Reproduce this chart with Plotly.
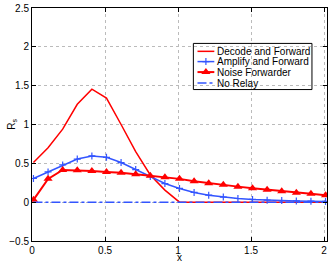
import plotly.graph_objects as go

x = [0.01 + 0.1 * i for i in range(21)]
df_vals = [0.51, 0.70, 0.94, 1.26, 1.455, 1.34, 1.00, 0.65, 0.35, 0.155, 0.0,
           0.0, 0.0, 0.0, 0.0, 0.0, 0.0, 0.0, 0.0, 0.0, 0.0]
af_vals = [0.305, 0.39, 0.48, 0.555, 0.595, 0.577, 0.51, 0.42, 0.33, 0.24, 0.177,
           0.125, 0.09, 0.065, 0.047, 0.035, 0.026, 0.02, 0.016, 0.013, 0.01]
nf_vals = [0.03, 0.30, 0.415, 0.41, 0.40, 0.39, 0.38, 0.36, 0.34, 0.32, 0.30,
           0.27, 0.245, 0.225, 0.20, 0.18, 0.16, 0.14, 0.12, 0.107, 0.09]
nr_vals = [0.0] * 21

series_names = ["Decode and Forward", "Amplify and Forward", "Noise Forwarder", "No Relay"]
x_ticks = [0, 0.5, 1, 1.5, 2]
x_tick_text = ["0", "0.5", "1", "1.5", "2"]
y_ticks = [-0.5, 0, 0.5, 1, 1.5, 2, 2.5]
y_tick_text = ["\u22120.5", "0", "0.5", "1", "1.5", "2", "2.5"]

RED = "#ff0000"
BLUE = "#3355ff"

styles = [
    dict(mode="lines", line=dict(color=RED, width=1.5), marker=None),
    dict(mode="lines+markers", line=dict(color=BLUE, width=1.5),
         marker=dict(symbol="cross-thin", size=5, line=dict(color=BLUE, width=1.2))),
    dict(mode="lines+markers", line=dict(color=RED, width=2),
         marker=dict(symbol="triangle-up", size=8, color=RED)),
    dict(mode="lines", line=dict(color=BLUE, width=1.5, dash="dashdot"), marker=None),
]

fig = go.Figure()
for name, vals, st in zip(series_names, [df_vals, af_vals, nf_vals, nr_vals], styles):
    kw = dict(x=x, y=vals, mode=st["mode"], name=name, line=st["line"], showlegend=False)
    if st["marker"]:
        kw["marker"] = st["marker"]
    fig.add_trace(go.Scatter(**kw))

# custom compact legend (MATLAB style)
leg_x0, leg_x1, leg_y0, leg_y1 = 0.547, 0.949, 0.650, 0.848
row_y = [0.814, 0.770, 0.725, 0.678]
samp_x0, samp_x1, text_x = 0.561, 0.618, 0.622
fig.add_shape(type="rect", xref="paper", yref="paper", x0=leg_x0, x1=leg_x1, y0=leg_y0, y1=leg_y1,
              line=dict(color="black", width=1), fillcolor="white", layer="between")
for name, ry, st in zip(series_names, row_y, styles):
    fig.add_shape(type="line", xref="paper", yref="paper", x0=samp_x0, x1=samp_x1, y0=ry, y1=ry,
                  line=st["line"], layer="between")
    fig.add_annotation(xref="paper", yref="paper", x=text_x, y=ry, text=name, showarrow=False,
                       xanchor="left", yanchor="middle", font=dict(size=10, color="black"))
    if st["marker"]:
        fig.add_trace(go.Scatter(x=[(samp_x0 + samp_x1) / 2], y=[ry], mode="markers",
                                 marker=st["marker"], xaxis="x2", yaxis="y2",
                                 showlegend=False, hoverinfo="skip"))

# axis titles
fig.add_annotation(xref="paper", yref="paper", x=0.5, y=-0.0987, text="x", showarrow=False,
                   xanchor="center", yanchor="bottom", borderpad=0,
                   font=dict(size=10, color="black"))
fig.add_annotation(xref="paper", yref="paper", x=-0.069, y=0.502, text="R<sub>s</sub>", showarrow=False,
                   xanchor="center", yanchor="middle", textangle=-90, font=dict(size=10, color="black"))

axis_common = dict(showline=True, linecolor="black", linewidth=1, mirror="ticks",
                   ticks="inside", ticklen=4, tickcolor="black",
                   showgrid=True, gridcolor="#bbbbbb", griddash="dot", gridwidth=1,
                   zeroline=False, tickfont=dict(size=10, color="black"), automargin=False)

fig.update_layout(
    width=332, height=264,
    margin=dict(l=32, r=5, t=8, b=23),
    paper_bgcolor="white", plot_bgcolor="white",
    font=dict(family="Liberation Sans, Arial, sans-serif", size=10, color="black"),
    xaxis=dict(range=[0, 2.02], tickvals=x_ticks, ticktext=x_tick_text, **axis_common),
    yaxis=dict(range=[-0.5, 2.5], tickvals=y_ticks, ticktext=y_tick_text, **axis_common),
    xaxis2=dict(range=[0, 1], overlaying="x", visible=False, fixedrange=True),
    yaxis2=dict(range=[0, 1], overlaying="y", visible=False, fixedrange=True),
    showlegend=False,
)

fig.write_html("out.html", config={"displayModeBar": False, "staticPlot": True},
               post_script="document.body.style.margin='0';")
